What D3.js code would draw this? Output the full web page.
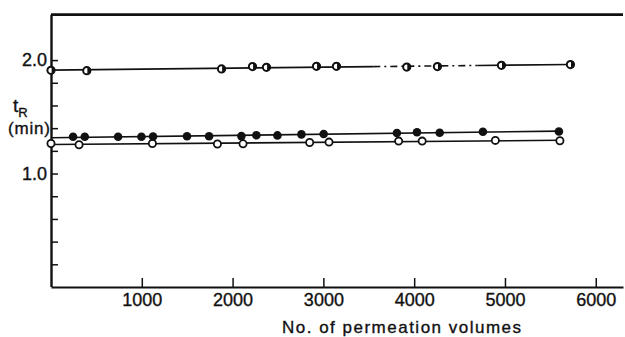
<!DOCTYPE html>
<html>
<head>
<meta charset="utf-8">
<script src="https://cdn.jsdelivr.net/npm/d3@7"></script>
<style>
body { margin: 0; background: #fff; }
text { font-family: "Liberation Sans", Arial, sans-serif; fill: #111; stroke: #111; stroke-width: 0.35px; }
</style>
</head>
<body>
<div id="container"></div>
<script>
// permeation volumes (x) and retention time tR in min (y)
const halfVolumes = [0, 394, 1878, 2219, 2373, 2924, 3144, 3918, 4256, 4961, 5721];
const halfTimes = [1.910, 1.907, 1.922, 1.943, 1.936, 1.945, 1.945, 1.938, 1.943, 1.954, 1.960];

const filledVolumes = [243, 372, 739, 996, 1124, 1498, 1741, 2097, 2262, 2494, 2758, 3003, 3810, 4031, 4281, 4757, 5594];
const filledTimes = [1.324, 1.324, 1.324, 1.324, 1.327, 1.329, 1.329, 1.330, 1.337, 1.336, 1.345, 1.348, 1.357, 1.364, 1.360, 1.368, 1.371];

const openVolumes = [0, 309, 1117, 1833, 2115, 2849, 3062, 3829, 4088, 4894, 5605];
const openTimes = [1.265, 1.254, 1.265, 1.260, 1.262, 1.274, 1.277, 1.286, 1.286, 1.292, 1.289];

const xTicks = [1000, 2000, 3000, 4000, 5000, 6000];
const yTicks = [0.2, 0.4, 0.6, 0.8, 1.0, 1.2, 1.4, 1.6, 1.8, 2.0];
const yLabelled = [1.0, 2.0];

// stretch of the top line that is printed dash-dot
const dashedStretch = [3550, 4700];

const width = 625, height = 337;
const x = d3.scaleLinear().domain([0, 6300]).range([51, 623]);
const y = d3.scaleLinear().domain([0, 2.4]).range([287, 14.7]);

const svg = d3.select("#container").append("svg")
    .attr("width", width)
    .attr("height", height);

// least squares straight line through a series
function fit(xs, ys) {
    const mx = d3.mean(xs), my = d3.mean(ys);
    let num = 0, den = 0;
    xs.forEach((v, i) => { num += (v - mx) * (ys[i] - my); den += (v - mx) * (v - mx); });
    const slope = num / den;
    return v => my + slope * (v - mx);
}

function drawLine(x0, x1, f, dash) {
    svg.append("line")
        .attr("x1", x(x0)).attr("y1", y(f(x0)))
        .attr("x2", x(x1)).attr("y2", y(f(x1)))
        .attr("stroke", "#111")
        .attr("stroke-width", 1.6)
        .attr("stroke-dasharray", dash || null);
}

// fitted lines
const fHalf = fit(halfVolumes, halfTimes);
const halfEnd = d3.max(halfVolumes);
drawLine(0, dashedStretch[0], fHalf);
drawLine(dashedStretch[0], dashedStretch[1], fHalf, "7,4,2,4");
drawLine(dashedStretch[1], halfEnd, fHalf);

const fFilled = fit(filledVolumes, filledTimes);
drawLine(0, d3.max(filledVolumes), fFilled);

const fOpen = fit(openVolumes, openTimes);
drawLine(0, d3.max(openVolumes), fOpen);

// axes
const xAxis = svg.append("g")
    .attr("transform", `translate(0,${y(0)})`)
    .call(d3.axisBottom(x).tickValues(xTicks).tickFormat(d3.format("d"))
        .tickSizeInner(-9).tickSizeOuter(0).tickPadding(6));
xAxis.select(".domain").attr("stroke-width", 2.2).attr("stroke", "#111");
xAxis.selectAll(".tick line").attr("stroke-width", 1.5).attr("stroke", "#111");
xAxis.selectAll("text").style("font-size", "18px").attr("fill", "#111");

const yAxis = svg.append("g")
    .attr("transform", `translate(${x(0)},0)`)
    .call(d3.axisLeft(y).tickValues(yTicks).tickSizeInner(-7).tickSizeOuter(0).tickPadding(4)
        .tickFormat(d => yLabelled.some(v => Math.abs(v - d) < 1e-9) ? d3.format(".1f")(d) : ""));
yAxis.select(".domain").attr("stroke-width", 2.4).attr("stroke", "#111")
    .attr("d", `M0.5,${y(0)}V${y(2.4)}`);
yAxis.selectAll(".tick line").attr("stroke-width", 1.5).attr("stroke", "#111");
yAxis.selectAll("text").style("font-size", "18px").attr("fill", "#111");

// top frame line
svg.append("line")
    .attr("x1", x(0)).attr("x2", x.range()[1])
    .attr("y1", y(2.4)).attr("y2", y(2.4))
    .attr("stroke", "#111").attr("stroke-width", 2.8);

// markers
svg.append("g").selectAll("circle")
    .data(openVolumes.map((v, i) => [v, openTimes[i]]))
    .join("circle")
    .attr("cx", d => x(d[0])).attr("cy", d => y(d[1]))
    .attr("r", 3.6)
    .attr("fill", "#fff").attr("stroke", "#111").attr("stroke-width", 1.8);

svg.append("g").selectAll("circle")
    .data(filledVolumes.map((v, i) => [v, filledTimes[i]]))
    .join("circle")
    .attr("cx", d => x(d[0])).attr("cy", d => y(d[1]))
    .attr("r", 4.3)
    .attr("fill", "#111");

const half = svg.append("g").selectAll("g")
    .data(halfVolumes.map((v, i) => [v, halfTimes[i]]))
    .join("g")
    .attr("transform", d => `translate(${x(d[0])},${y(d[1])})`);
half.append("circle")
    .attr("r", 3.6)
    .attr("fill", "#fff").attr("stroke", "#111").attr("stroke-width", 2);
half.append("path")
    .attr("d", "M0.6,-3.6A3.6,3.6 0 0 1 0.6,3.6Z")
    .attr("fill", "#111");

// axis titles
const tr = svg.append("text")
    .attr("x", 13).attr("y", 112)
    .style("font-size", "19px");
tr.append("tspan").text("t");
tr.append("tspan").attr("dy", 5).style("font-size", "13px").text("R");

svg.append("text")
    .attr("x", 8).attr("y", 134)
    .attr("textLength", 42)
    .attr("lengthAdjust", "spacing")
    .style("font-size", "17px")
    .text("(min)");

svg.append("text")
    .attr("x", 282).attr("y", 333)
    .attr("textLength", 239)
    .attr("lengthAdjust", "spacing")
    .style("font-size", "17px")
    .text("No. of permeation volumes");
</script>
</body>
</html>
